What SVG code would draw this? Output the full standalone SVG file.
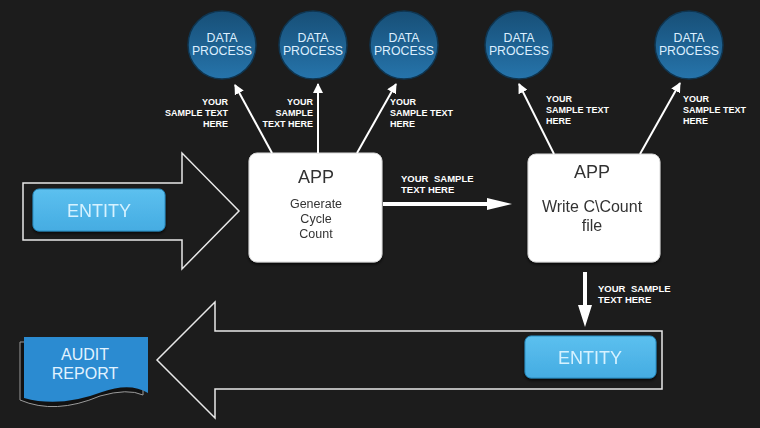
<svg xmlns="http://www.w3.org/2000/svg" width="760" height="428" viewBox="0 0 760 428">
<defs>
<linearGradient id="circ" x1="0" y1="0" x2="0" y2="1">
<stop offset="0" stop-color="#174f77"/>
<stop offset="1" stop-color="#2674ab"/>
</linearGradient>
<linearGradient id="ent" x1="0" y1="0" x2="0" y2="1">
<stop offset="0" stop-color="#5cc0ef"/>
<stop offset="1" stop-color="#45ace2"/>
</linearGradient>
<marker id="ah" viewBox="0 0 10 10" refX="9" refY="5" markerWidth="5" markerHeight="5" orient="auto" markerUnits="strokeWidth">
<path d="M0,0 L10,5 L0,10 z" fill="#ffffff"/>
</marker>
<filter id="sh" x="-10%" y="-10%" width="120%" height="130%">
<feDropShadow dx="0" dy="2" stdDeviation="1.5" flood-color="#000" flood-opacity="0.7"/>
</filter>
</defs>
<style>
.dp{fill:url(#circ);stroke:#0f3550;stroke-width:1.5}
.dpt{font-family:"Liberation Sans",Arial,sans-serif;font-size:12.3px;fill:#dcefff;text-anchor:middle}
.lbl{font-family:"Liberation Sans",Arial,sans-serif;font-size:9px;font-weight:bold;fill:#ffffff}
.lbl2{font-family:"Liberation Sans",Arial,sans-serif;font-size:9.5px;font-weight:bold;fill:#ffffff}
.conn{stroke:#ffffff;stroke-width:2;fill:none}
.app{fill:#ffffff;stroke:#d8d8d8;stroke-width:1}
.appt{font-family:"Liberation Sans",Arial,sans-serif;fill:#333333;text-anchor:middle}
.big{fill:#1c1c1c;stroke:#e8e8e8;stroke-width:1.5}
.entb{fill:url(#ent);stroke:#2a8fc4;stroke-width:1}
.entt{font-family:"Liberation Sans",Arial,sans-serif;font-size:18px;fill:#d6f2ff;text-anchor:middle}
.rep{font-family:"Liberation Sans",Arial,sans-serif;font-size:16px;fill:#e2f3ff;text-anchor:middle}
</style>
<rect width="760" height="428" fill="#1c1c1c"/>

<g id="big-arrow-right">
<path class="big" d="M23,183 L182,183 L182,153 L239,211 L182,269 L182,240 L23,240 Z"/>
</g>
<g id="big-arrow-left">
<path class="big" d="M662,331 L215,331 L215,302 L157,360 L215,418 L215,389 L662,389 Z"/>
</g>

<g id="entity1" filter="url(#sh)">
<rect class="entb" x="33" y="189" width="132" height="42" rx="6"/>
<text class="entt" x="99" y="217">ENTITY</text>
</g>

<g id="entity2" filter="url(#sh)">
<rect class="entb" x="525" y="336" width="131" height="42" rx="6"/>
<text class="entt" x="590" y="364">ENTITY</text>
</g>

<g id="app1" filter="url(#sh)">
<rect class="app" x="249" y="153" width="133" height="109" rx="8"/>
<text class="appt" x="316" y="183" font-size="18">APP</text>
<text class="appt" x="316" y="208" font-size="12.5">Generate</text>
<text class="appt" x="316" y="223" font-size="12.5">Cycle</text>
<text class="appt" x="316" y="238" font-size="12.5">Count</text>
</g>

<g id="app2" filter="url(#sh)">
<rect class="app" x="528" y="154" width="132" height="108" rx="8"/>
<text class="appt" x="592" y="178" font-size="18">APP</text>
<text class="appt" x="592" y="212" font-size="16">Write C\Count</text>
<text class="appt" x="592" y="231" font-size="16">file</text>
</g>

<g id="audit-report">
<path d="M20,342 L20,400 Q55,415 100,396 Q128,388 143,395 L143,342 Z" fill="#111" stroke="#9a9a9a" stroke-width="1"/>
<path d="M24,337 L148,337 L148,393 Q130,382 102,392 Q60,408 24,398 Z" fill="#2b8bd1"/>
<text class="rep" x="85" y="360">AUDIT</text>
<text class="rep" x="85" y="379">REPORT</text>
</g>

<g id="dp1"><circle class="dp" cx="222" cy="45" r="34"/><text class="dpt" x="222" y="42">DATA</text><text class="dpt" x="222" y="55">PROCESS</text></g>
<g id="dp2"><circle class="dp" cx="313" cy="45" r="34"/><text class="dpt" x="313" y="42">DATA</text><text class="dpt" x="313" y="55">PROCESS</text></g>
<g id="dp3"><circle class="dp" cx="404" cy="45" r="34"/><text class="dpt" x="404" y="42">DATA</text><text class="dpt" x="404" y="55">PROCESS</text></g>
<g id="dp4"><circle class="dp" cx="519" cy="45" r="34"/><text class="dpt" x="519" y="42">DATA</text><text class="dpt" x="519" y="55">PROCESS</text></g>
<g id="dp5"><circle class="dp" cx="689" cy="45" r="34"/><text class="dpt" x="689" y="42">DATA</text><text class="dpt" x="689" y="55">PROCESS</text></g>

<g id="connectors">
<line class="conn" x1="272" y1="153" x2="235" y2="85" marker-end="url(#ah)"/>
<line class="conn" x1="318" y1="153" x2="318" y2="84" marker-end="url(#ah)"/>
<line class="conn" x1="357" y1="153" x2="396" y2="84" marker-end="url(#ah)"/>
<line class="conn" x1="554" y1="154" x2="519" y2="84" marker-end="url(#ah)"/>
<line class="conn" x1="640" y1="154" x2="680" y2="83" marker-end="url(#ah)"/>
<path d="M383,202 L487,202 L487,198 L512,204 L487,210 L487,206 L383,206 Z" fill="#ffffff"/>
<path d="M583,272 L587,272 L587,305 L592,305 L585,327 L578,305 L583,305 Z" fill="#ffffff"/>
</g>

<g id="labels">
<text class="lbl" text-anchor="end"><tspan x="228" y="105">YOUR</tspan><tspan x="228" y="116">SAMPLE TEXT</tspan><tspan x="228" y="127">HERE</tspan></text>
<text class="lbl" text-anchor="end"><tspan x="313" y="105">YOUR</tspan><tspan x="313" y="116">SAMPLE</tspan><tspan x="313" y="127">TEXT HERE</tspan></text>
<text class="lbl"><tspan x="390" y="105">YOUR</tspan><tspan x="390" y="116">SAMPLE TEXT</tspan><tspan x="390" y="127">HERE</tspan></text>
<text class="lbl"><tspan x="546" y="102">YOUR</tspan><tspan x="546" y="113">SAMPLE TEXT</tspan><tspan x="546" y="124">HERE</tspan></text>
<text class="lbl"><tspan x="683" y="102">YOUR</tspan><tspan x="683" y="113">SAMPLE TEXT</tspan><tspan x="683" y="124">HERE</tspan></text>
<text class="lbl2"><tspan x="401" y="182">YOUR</tspan><tspan x="434" y="182">SAMPLE</tspan><tspan x="401" y="193">TEXT HERE</tspan></text>
<text class="lbl2"><tspan x="598" y="292">YOUR</tspan><tspan x="631" y="292">SAMPLE</tspan><tspan x="598" y="303">TEXT HERE</tspan></text>
</g>
</svg>
